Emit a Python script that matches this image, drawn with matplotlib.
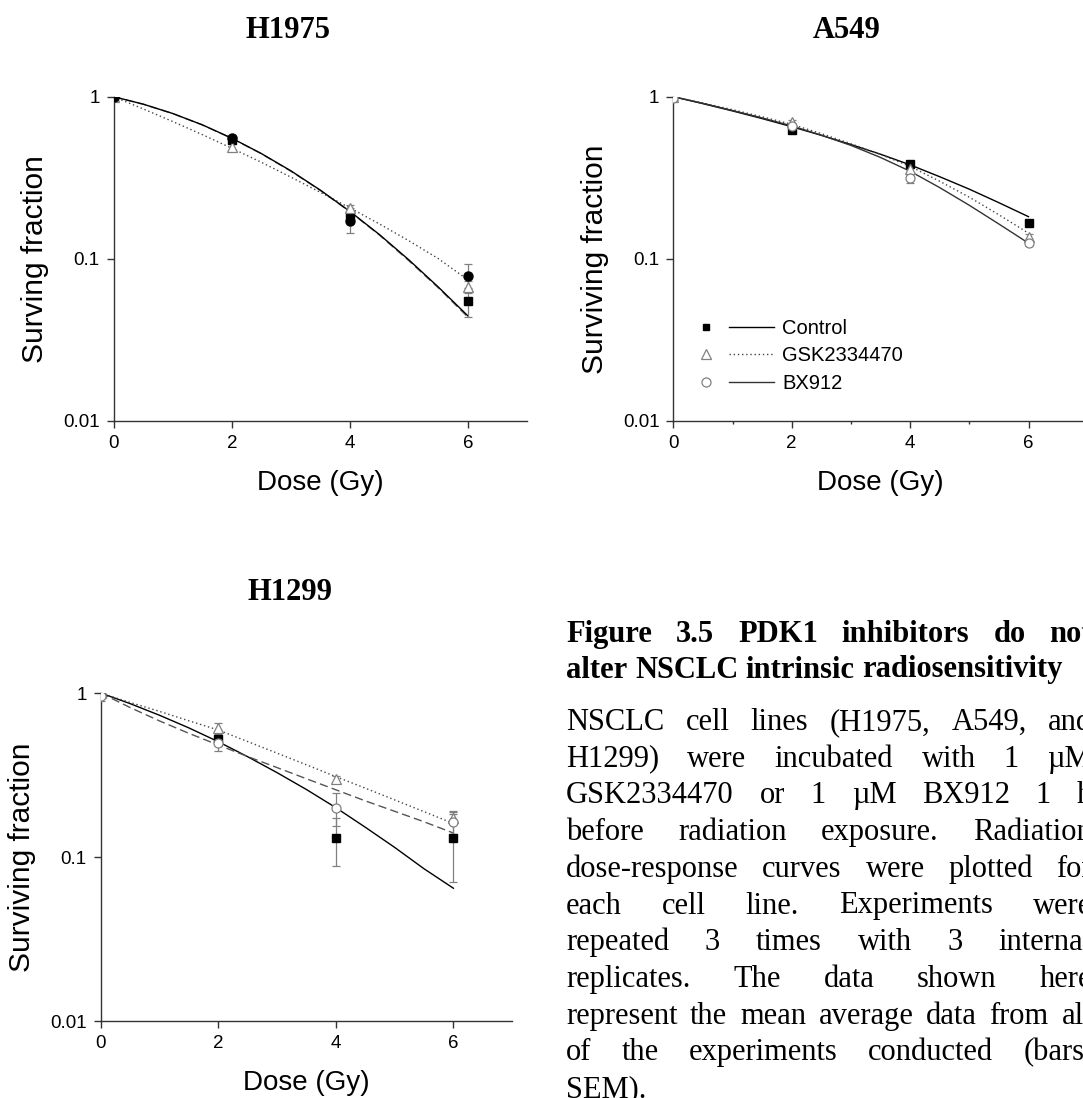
import matplotlib
matplotlib.use('Agg')
import matplotlib.pyplot as plt
from matplotlib.lines import Line2D
from matplotlib.legend_handler import HandlerTuple
from matplotlib.ticker import NullLocator

# ---------------- data ----------------
dose = [0, 2, 4, 6]
fit_dose = [0, 0.5, 1, 1.5, 2, 2.5, 3, 3.5, 4, 4.5, 5, 5.5, 6]
treatments = ['Control', 'GSK2334470', 'BX912']

# H1975
h1975_ctrl = [1.0, 0.54, 0.187, 0.055]
h1975_ctrl_err = [0, 0.02, 0.02, 0.011]
h1975_gsk = [1.0, 0.488, 0.206, 0.0674]
h1975_gsk_err = [0, 0.02, 0.01, 0.006]
h1975_bx = [1.0, 0.555, 0.170, 0.0785]
h1975_bx_err = [0, 0.015, 0.025, 0.014]
h1975_ctrl_fit = [1.0, 0.900, 0.788, 0.671, 0.555, 0.446, 0.349, 0.265, 0.196, 0.141, 0.0983, 0.0667, 0.0443]
h1975_gsk_fit = [1.0, 0.841, 0.703, 0.584, 0.481, 0.394, 0.319, 0.257, 0.206, 0.164, 0.129, 0.100, 0.074]
h1975_bx_fit = [1.0, 0.899, 0.787, 0.670, 0.553, 0.445, 0.347, 0.264, 0.195, 0.140, 0.097, 0.066, 0.0435]

# A549
a549_ctrl = [1.0, 0.624, 0.385, 0.167]
a549_ctrl_err = [0, 0.015, 0.015, 0.006]
a549_gsk = [1.0, 0.70, 0.357, 0.137]
a549_gsk_err = [0, 0.02, 0.015, 0.006]
a549_bx = [0.98, 0.66, 0.314, 0.125]
a549_bx_err = [0, 0.02, 0.022, 0.005]
a549_ctrl_fit = [1.0, 0.906, 0.817, 0.733, 0.653, 0.578, 0.507, 0.442, 0.380, 0.321, 0.269, 0.222, 0.182]
a549_gsk_fit = [1.0, 0.914, 0.832, 0.752, 0.676, 0.592, 0.513, 0.440, 0.372, 0.301, 0.240, 0.187, 0.144]
a549_bx_fit = [1.0, 0.910, 0.822, 0.740, 0.661, 0.579, 0.501, 0.422, 0.347, 0.275, 0.214, 0.164, 0.125]

# H1299
h1299_ctrl = [1.0, 0.524, 0.131, 0.131]
h1299_ctrl_err = [0, 0.02, 0.043, 0.061]
h1299_gsk = [1.0, 0.609, 0.298, 0.172]
h1299_gsk_err = [0, 0.05, 0.015, 0.012]
h1299_bx = [0.96, 0.494, 0.20, 0.163]
h1299_bx_err = [0.06, 0.051, 0.045, 0.025]
h1299_ctrl_fit = [1.0, 0.862, 0.732, 0.613, 0.505, 0.409, 0.327, 0.258, 0.200, 0.152, 0.1145, 0.0848, 0.0645]
h1299_gsk_fit = [1.0, 0.876, 0.773, 0.677, 0.595, 0.506, 0.430, 0.365, 0.309, 0.263, 0.223, 0.189, 0.160]
h1299_bx_fit = [1.0, 0.816, 0.676, 0.568, 0.482, 0.410, 0.351, 0.300, 0.257, 0.220, 0.190, 0.164, 0.140]

caption_title = ["Figure 3.5 PDK1 inhibitors do not",
                 "alter NSCLC intrinsic radiosensitivity"]
caption_body = ["NSCLC cell lines (H1975, A549, and",
                "H1299) were incubated with 1 \u00b5M",
                "GSK2334470 or 1 \u00b5M BX912 1 h",
                "before radiation exposure. Radiation",
                "dose-response curves were plotted for",
                "each cell line. Experiments were",
                "repeated 3 times with 3 internal",
                "replicates. The data shown here",
                "represent the mean average data from all",
                "of the experiments conducted (bars,",
                "SEM)."]

# ---------------- figure ----------------
W, H = 1083, 1098
fig = plt.figure(figsize=(W / 100, H / 100), dpi=100)
fig.patch.set_facecolor('white')
SANS = 'Liberation Sans'
SERIF = 'Liberation Serif'
GRAY = '#808080'


def px_axes(left, top, right, bottom):
    return fig.add_axes([left / W, 1 - bottom / H, (right - left) / W, (bottom - top) / H])


def style_axes(ax, ylabel, minor_x=False):
    ax.set_yscale('log')
    ax.set_ylim(0.01, 1)
    ax.set_xlim(0, 7)
    for s in ['top', 'right']:
        ax.spines[s].set_visible(False)
    for s in ['left', 'bottom']:
        ax.spines[s].set_linewidth(1.0)
        ax.spines[s].set_color('#333333')
    ax.set_yticks([0.01, 0.1, 1])
    ax.set_yticklabels(['0.01', '0.1', '1'], fontfamily=SANS)
    ax.yaxis.set_minor_locator(NullLocator())
    ax.set_xticks([0, 2, 4, 6])
    ax.set_xticklabels(['0', '2', '4', '6'], fontfamily=SANS)
    if minor_x:
        ax.set_xticks([1, 3, 5], minor=True)
    else:
        ax.xaxis.set_minor_locator(NullLocator())
    ax.tick_params(which='major', direction='out', length=5, width=1.0,
                   labelsize=13.5, pad=5, color='#333333')
    ax.tick_params(which='minor', direction='out', length=2.5, width=1.0, color='#333333')
    ax.set_xlabel('Dose (Gy)', fontsize=20, fontfamily=SANS, labelpad=13)
    ax.set_ylabel(ylabel, fontsize=21.5, fontfamily=SANS, labelpad=10)


def draw_panel(ax, fits, styles, means, errs, markers):
    for vals, (ls, col) in zip(fits, styles):
        ax.plot(fit_dose, vals, linestyle=ls, color=col, lw=1.0, zorder=2)
    for vals, err, mk in zip(means, errs, markers):
        ax.errorbar(dose, vals, yerr=err, fmt='none', ecolor=GRAY, elinewidth=0.9,
                    capsize=3, capthick=0.9, zorder=3)
        ax.plot(dose, vals, linestyle='none', zorder=4, **mk)


sq = dict(marker='s', ms=5.5, mfc='black', mec='black')
tri = dict(marker='^', ms=7, mfc='white', mec=GRAY, mew=0.9)
circ_open = dict(marker='o', ms=6.5, mfc='white', mec=GRAY, mew=0.9)
circ_fill = dict(marker='o', ms=6.5, mfc='black', mec='black')
dotted = (0, (1, 2))
dashed = (0, (6, 3))

# H1975
ax1 = px_axes(113.6, 96.7, 527.3, 421)
style_axes(ax1, 'Surving fraction')
draw_panel(ax1,
           [h1975_bx_fit, h1975_gsk_fit, h1975_ctrl_fit],
           [(dashed, '#666666'), (dotted, '#444444'), ('-', 'black')],
           [h1975_ctrl, h1975_gsk, h1975_bx],
           [h1975_ctrl_err, h1975_gsk_err, h1975_bx_err],
           [sq, tri, circ_fill])

# A549
ax2 = px_axes(673.3, 96.7, 1087.7, 421)
style_axes(ax2, 'Surviving fraction', minor_x=True)
draw_panel(ax2,
           [a549_ctrl_fit, a549_gsk_fit, a549_bx_fit],
           [('-', 'black'), (dotted, '#444444'), ('-', '#333333')],
           [a549_ctrl, a549_gsk, a549_bx],
           [a549_ctrl_err, a549_gsk_err, a549_bx_err],
           [sq, tri, circ_open])

handles = [(Line2D([], [], ls='none', marker='s', ms=5, mfc='black', mec='black'),
            Line2D([], [], color='black', lw=1.0)),
           (Line2D([], [], ls='none', marker='^', ms=7, mfc='white', mec=GRAY, mew=0.9),
            Line2D([], [], color='#444444', lw=1.0, ls=dotted)),
           (Line2D([], [], ls='none', marker='o', ms=6.5, mfc='white', mec=GRAY, mew=0.9),
            Line2D([], [], color='#333333', lw=1.0))]
leg = ax2.legend(handles, treatments, handler_map={tuple: HandlerTuple(ndivide=None, pad=0)},
                 frameon=False, handlelength=4.5, handletextpad=0.4,
                 labelspacing=0.42, borderpad=0, borderaxespad=0,
                 loc='upper left', bbox_to_anchor=(0.0246, 0.315),
                 prop={'family': SANS, 'size': 14.5})

# H1299
ax3 = px_axes(100.6, 693, 512.2, 1021)
style_axes(ax3, 'Surviving fraction')
draw_panel(ax3,
           [h1299_ctrl_fit, h1299_gsk_fit, h1299_bx_fit],
           [('-', 'black'), (dotted, '#444444'), (dashed, '#555555')],
           [h1299_ctrl, h1299_gsk, h1299_bx],
           [h1299_ctrl_err, h1299_gsk_err, h1299_bx_err],
           [sq, tri, circ_open])

# panel titles
for name, cx, cy in [('H1975', 288, 30), ('A549', 847, 30), ('H1299', 290, 593)]:
    fig.text(cx / W, 1 - cy / H, name, fontsize=22, fontweight='bold', fontfamily=SERIF,
             ha='center', va='center')

# ---------------- justified caption ----------------
renderer = fig.canvas.get_renderer()
LEFT, RIGHT = 566, 1092


def put_line(line, baseline, bold=False, justify=True):
    words = line.split(' ')
    kw = dict(fontsize=22, fontfamily=SERIF, fontweight='bold' if bold else 'normal',
              ha='left', va='baseline')
    texts = [fig.text(0, 1 - baseline / H, w, **kw) for w in words]
    widths = [t.get_window_extent(renderer=renderer).width for t in texts]
    if justify and len(words) > 1:
        gap = (RIGHT - LEFT - sum(widths)) / (len(words) - 1)
    else:
        probe = fig.text(0, 0, 'a a', **kw)
        one = fig.text(0, 0, 'aa', **kw)
        gap = probe.get_window_extent(renderer=renderer).width - one.get_window_extent(renderer=renderer).width
        probe.remove()
        one.remove()
    x = LEFT
    for t, w in zip(texts, widths):
        t.set_x(x / W)
        x += w + gap


put_line(caption_title[0], 642, bold=True)
put_line(caption_title[1], 677.5, bold=True, justify=False)
for i, line in enumerate(caption_body):
    put_line(line, 730 + 36.7 * i, justify=(i < len(caption_body) - 1))

fig.savefig('out.png', dpi=100, facecolor='white')
